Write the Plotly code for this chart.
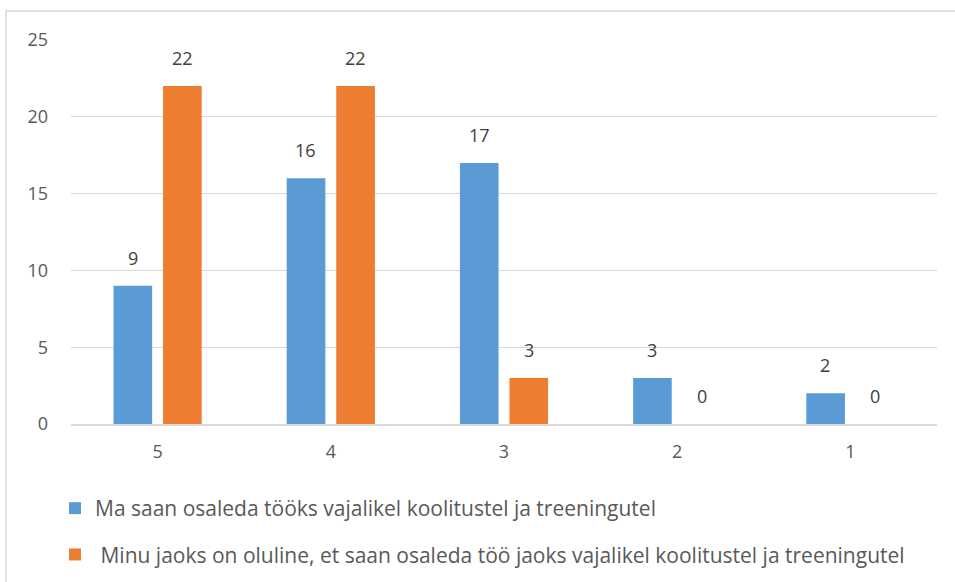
import plotly.graph_objects as go

categories = ["5", "4", "3", "2", "1"]
series_names = [
    "Ma saan osaleda tööks vajalikel koolitustel ja treeningutel",
    "\u00a0Minu jaoks on oluline, et saan osaleda töö jaoks vajalikel koolitustel ja treeningutel",
]
series_values = [
    [9, 16, 17, 3, 2],
    [22, 22, 3, 0, 0],
]
colors = ["#5b9bd5", "#ed7d31"]
y_ticks = [0, 5, 10, 15, 20, 25]

W, H = 955, 582
L, R, T, B = 71, 18, 40, 158
pw, ph = W - L - R, H - T - B

fig = go.Figure()
for i, (name, vals) in enumerate(zip(series_names, series_values)):
    fig.add_trace(go.Bar(
        x=categories, y=vals, name=name, marker_color=colors[i],
        marker_line_width=0, legendgroup=f"g{i}",
    ))

# value labels above each bar (category index used as x position)
shifts = [-25, 25]
annotations = []
for i, vals in enumerate(series_values):
    for idx, v in enumerate(vals):
        annotations.append(dict(
            x=idx, y=v, text=str(v), showarrow=False, xref="x", yref="y",
            xshift=shifts[i], yshift=14, yanchor="bottom",
            font=dict(size=18, color="#404040", family="Open Sans"),
        ))

def px_x(p):
    return (p - L) / pw

def px_y(p):
    return (T + ph - p) / ph

fig.update_layout(
    width=W, height=H,
    margin=dict(l=L, r=R, t=T, b=B, autoexpand=False),
    paper_bgcolor="white", plot_bgcolor="white",
    barmode="group", bargap=0.428, bargroupgap=0.22,
    font=dict(family="Open Sans", color="#595959", size=17),
    showlegend=True,
    legend=dict(
        x=px_x(55), y=px_y(488), xanchor="left", yanchor="top",
        orientation="v", traceorder="grouped", tracegroupgap=16,
        font=dict(size=21, color="#595959"),
        itemwidth=30, itemsizing="constant",
    ),
    annotations=annotations,
    shapes=[dict(
        type="rect", xref="paper", yref="paper",
        x0=px_x(6), x1=px_x(W + 20), y0=px_y(H + 20), y1=px_y(11),
        line=dict(color="#d9d9d9", width=1.5), layer="below",
    )],
    xaxis=dict(
        type="category", range=[-0.5, len(categories) - 0.5],
        showgrid=False, showline=True,
        linecolor="#d9d9d9", linewidth=1.5, ticks="",
        ticklabelstandoff=11, tickfont=dict(size=18, color="#595959"),
    ),
    yaxis=dict(
        range=[0, 25], tickvals=y_ticks, showgrid=True,
        gridcolor="#d9d9d9", gridwidth=1.2, zeroline=False,
        showline=False, ticks="", ticklabelstandoff=22,
        tickfont=dict(size=18, color="#595959"),
    ),
)

fig.write_html("out.html")
